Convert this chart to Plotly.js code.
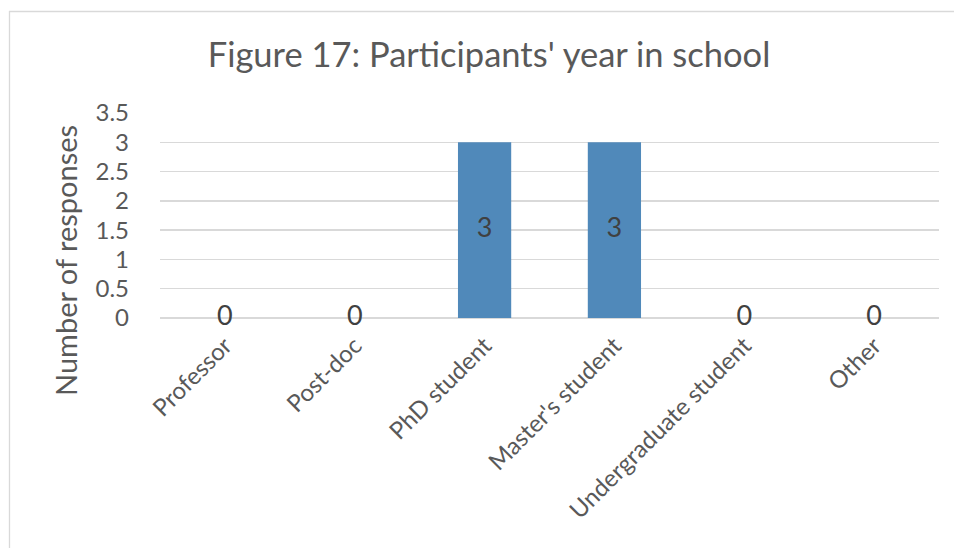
<!DOCTYPE html>
<html>
<head>
<meta charset="utf-8">
<script src="https://cdn.plot.ly/plotly-3.0.1.min.js"></script>
<style>html,body{margin:0;padding:0;background:#fff;}#chart{width:954px;height:548px;}</style>
</head>
<body>
<div id="chart"></div>
<script>
const categories = ["Professor", "Post-doc", "PhD student", "Master's student", "Undergraduate student", "Other"];
const responses = [0, 0, 3, 3, 0, 0];
const yTickValues = [0, 0.5, 1, 1.5, 2, 2.5, 3, 3.5];
const chartTitle = "Figure 17: Participants' year in school";
const yAxisTitle = "Number of responses";

const FONT = "Lato, 'Open Sans', sans-serif";
const W = 954, H = 548;
const margin = {l: 160, r: 15, t: 113, b: 230};
const pw = W - margin.l - margin.r, ph = H - margin.t - margin.b;
const px2x = p => (p - margin.l) / pw;
const px2y = p => (H - margin.b - p) / ph;

const bars = {
  type: 'bar',
  x: categories,
  y: responses,
  marker: {color: '#5089ba'},
  hoverinfo: 'skip',
  showlegend: false
};
const labels = {
  type: 'scatter',
  mode: 'text',
  x: categories,
  y: responses.map(v => v / 2),
  text: responses.map(v => String(v)),
  textposition: 'middle center',
  textfont: {family: FONT, size: 27, color: '#404040'},
  hoverinfo: 'skip',
  showlegend: false,
  cliponaxis: false
};

const layout = {
  width: W, height: H,
  margin: margin,
  paper_bgcolor: '#ffffff',
  plot_bgcolor: '#ffffff',
  bargap: 0.59,
  font: {family: FONT, color: '#595959'},
  title: {
    text: chartTitle,
    font: {family: FONT, size: 34.5, color: '#595959'},
    x: px2x(489), xref: 'paper', xanchor: 'center',
    y: 1 - 55 / H, yref: 'container', yanchor: 'middle'
  },
  xaxis: {
    type: 'category',
    tickangle: -45,
    tickfont: {family: FONT, size: 24, color: '#595959'},
    showgrid: false,
    zeroline: false,
    showline: false,
    ticks: '',
    ticklabelstandoff: 8,
    fixedrange: true
  },
  yaxis: {
    range: [0, 3.5],
    tickvals: yTickValues,
    ticktext: yTickValues.map(v => String(v)),
    tickfont: {family: FONT, size: 24, color: '#595959'},
    showgrid: true,
    gridcolor: '#d9d9d9',
    gridwidth: 1.3,
    zeroline: true,
    zerolinecolor: '#d9d9d9',
    zerolinewidth: 1.3,
    showline: false,
    ticks: '',
    ticklabelstandoff: 30,
    fixedrange: true
  },
  annotations: [{
    text: yAxisTitle,
    textangle: -90,
    xref: 'paper', yref: 'paper',
    x: px2x(65), y: px2y(261),
    xanchor: 'center', yanchor: 'middle',
    showarrow: false,
    font: {family: FONT, size: 29, color: '#595959'}
  }],
  shapes: [
    {type: 'line', xref: 'paper', yref: 'paper', x0: px2x(9.5), x1: px2x(9.5), y0: px2y(11), y1: px2y(560), line: {color: '#d9d9d9', width: 1.3}},
    {type: 'line', xref: 'paper', yref: 'paper', x0: px2x(9), x1: px2x(960), y0: px2y(11.5), y1: px2y(11.5), line: {color: '#d9d9d9', width: 1.3}}
  ]
};

Plotly.newPlot('chart', [bars, labels], layout, {displayModeBar: false, staticPlot: true});
</script>
</body>
</html>
